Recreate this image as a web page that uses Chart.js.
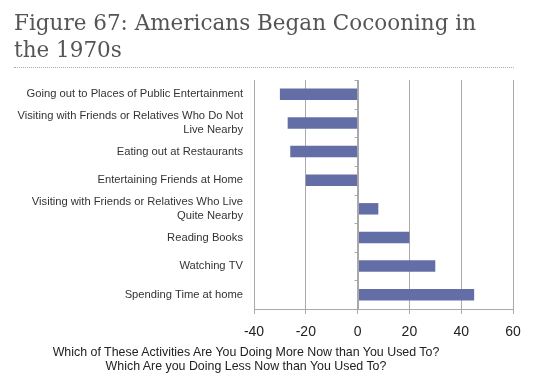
<!DOCTYPE html>
<html>
<head>
<meta charset="utf-8">
<script src="https://cdn.jsdelivr.net/npm/chart.js@4"></script>
<style>
  html, body { margin: 0; padding: 0; background: #fff; }
  #wrap { position: relative; width: 540px; height: 380px; overflow: hidden; }
  #title { position: absolute; left: 14px; top: 9px; width: 526px;
    font-family: "DejaVu Serif", serif; font-size: 21.5px; line-height: 27px; color: #555; }
  #rule { position: absolute; left: 14px; top: 67px; width: 500px; border-top: 1px dotted #aaa; }
  #caption { position: absolute; left: 0; width: 492px; top: 345px; text-align: center;
    font-family: "Liberation Sans", Arial, sans-serif; font-size: 12.4px; line-height: 14px; color: #222; }
  canvas { position: absolute; left: 0; top: 0; }
</style>
</head>
<body>
<div id="wrap">
  <canvas id="c" width="540" height="380"></canvas>
  <div id="title">Figure 67: Americans Began Cocooning in<br>the 1970s</div>
  <div id="rule"></div>
  <div id="caption">Which of These Activities Are You Doing More Now than You Used To?<br>Which Are you Doing Less Now than You Used To?</div>
</div>
<script>
const categories = [
  "Going out to Places of Public Entertainment",
  ["Visiting with Friends or Relatives Who Do Not", "Live Nearby"],
  "Eating out at Restaurants",
  "Entertaining Friends at Home",
  ["Visiting with Friends or Relatives Who Live", "Quite Nearby"],
  "Reading Books",
  "Watching TV",
  "Spending Time at home"
];
const values = [-30, -27, -26, -20, 8, 20, 30, 45];
const xMin = -40, xMax = 60, xStep = 20;

const zeroAxis = {
  id: 'zeroAxis',
  afterDatasetsDraw(chart) {
    const { ctx, scales: { x, y } } = chart;
    const x0 = Math.round(x.getPixelForValue(0)) + 0.5;
    ctx.save();
    ctx.strokeStyle = '#a8a8a8';
    ctx.lineWidth = 1;
    ctx.beginPath();
    ctx.moveTo(x0, y.top);
    ctx.lineTo(x0, y.bottom);
    for (let i = 0; i <= categories.length; i++) {
      const yy = Math.round(y.top + (y.bottom - y.top) * i / categories.length) + 0.5;
      ctx.moveTo(x0 - 4, yy);
      ctx.lineTo(x0, yy);
    }
    ctx.stroke();
    ctx.restore();
  }
};

new Chart(document.getElementById('c'), {
  type: 'bar',
  data: {
    labels: categories,
    datasets: [{
      data: values,
      backgroundColor: '#646ea6',
      borderWidth: 0,
      barPercentage: 0.4,
      categoryPercentage: 1
    }]
  },
  options: {
    indexAxis: 'y',
    responsive: false,
    animation: false,
    layout: { padding: { top: 80, right: 27, bottom: 0, left: 0 } },
    plugins: { legend: { display: false }, tooltip: { enabled: false } },
    scales: {
      x: {
        min: xMin, max: xMax,
        ticks: { stepSize: xStep, color: '#222', padding: 10,
          font: { family: '"Liberation Sans", Arial, sans-serif', size: 14 } },
        grid: { color: '#aaaaaa', tickLength: 5, drawOnChartArea: true },
        border: { color: '#aaaaaa' },
        afterFit(scale) { scale.height = 71; }
      },
      y: {
        ticks: { color: '#333', padding: 11, autoSkip: false,
          font: { family: '"Liberation Sans", Arial, sans-serif', size: 11.2, lineHeight: 1.25 } },
        grid: { display: false, drawTicks: false },
        border: { display: true, color: '#aaaaaa' },
        afterFit(scale) { scale.width = 254; }
      }
    }
  },
  plugins: [zeroAxis]
});
</script>
</body>
</html>
